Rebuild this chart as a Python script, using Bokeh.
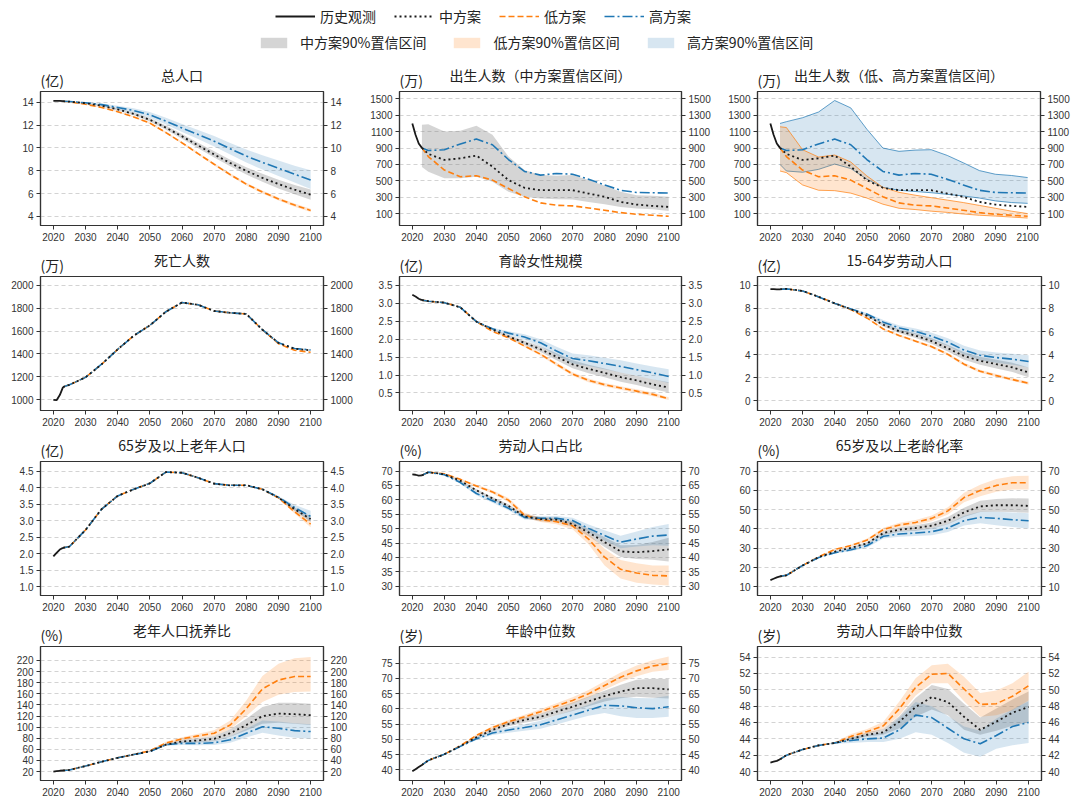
from bokeh.plotting import figure
from bokeh.models import (Range1d, LinearAxis, FixedTicker, PrintfTickFormatter,
                          Legend, LegendItem)
from bokeh.core.properties import value
from bokeh.layouts import column, row
from bokeh.embed import file_html
from bokeh.resources import INLINE

# ---------------- data ----------------
YEARS = [2023, 2025, 2030, 2035, 2040, 2045, 2050, 2055, 2060, 2065, 2070, 2075, 2080, 2085, 2090, 2095, 2100]
HIST_YEARS = [2020, 2021, 2022, 2023]
X_TICKS = [2020, 2030, 2040, 2050, 2060, 2070, 2080, 2090, 2100]

# 1 总人口 (亿)
P1_HIST = [14.12, 14.13, 14.12, 14.10]
P1_MID = [14.10, 14.06, 13.92, 13.70, 13.38, 12.98, 12.47, 11.78, 11.02, 10.22, 9.43, 8.68, 7.99, 7.38, 6.83, 6.34, 5.90]
P1_MID_LO = [14.10, 14.05, 13.88, 13.63, 13.29, 12.86, 12.32, 11.60, 10.81, 9.98, 9.16, 8.39, 7.67, 7.03, 6.45, 5.93, 5.45]
P1_MID_HI = [14.10, 14.07, 13.96, 13.77, 13.47, 13.10, 12.62, 11.96, 11.23, 10.46, 9.70, 8.97, 8.31, 7.73, 7.21, 6.75, 6.35]
P1_LOW = [14.10, 14.04, 13.83, 13.55, 13.18, 12.72, 12.18, 11.35, 10.45, 9.50, 8.57, 7.66, 6.83, 6.13, 5.53, 4.99, 4.52]
P1_LOW_LO = [14.10, 14.03, 13.80, 13.51, 13.13, 12.66, 12.11, 11.27, 10.36, 9.40, 8.46, 7.54, 6.71, 6.00, 5.40, 4.85, 4.38]
P1_LOW_HI = [14.10, 14.05, 13.86, 13.59, 13.23, 12.78, 12.25, 11.43, 10.54, 9.60, 8.68, 7.78, 6.95, 6.26, 5.66, 5.13, 4.66]
P1_HIGH = [14.10, 14.07, 13.96, 13.80, 13.55, 13.28, 12.90, 12.35, 11.75, 11.18, 10.59, 9.93, 9.29, 8.73, 8.22, 7.70, 7.18]
P1_HIGH_LO = [14.10, 14.05, 13.90, 13.70, 13.40, 13.08, 12.65, 12.05, 11.40, 10.78, 10.13, 9.42, 8.72, 8.10, 7.53, 6.96, 6.40]
P1_HIGH_HI = [14.10, 14.09, 14.02, 13.90, 13.70, 13.48, 13.15, 12.65, 12.10, 11.58, 11.05, 10.44, 9.86, 9.36, 8.91, 8.44, 8.05]

# 2/3 出生人数 (万)
P2_HIST = [1200, 1062, 956, 902]
P2_MID = [902, 829, 755, 775, 808, 673, 509, 415, 386, 386, 386, 345, 305, 243, 210, 194, 182]
P2_MID_LO = [670, 612, 530, 530, 550, 489, 366, 305, 284, 276, 272, 243, 214, 182, 161, 153, 133]
P2_MID_HI = [1185, 1190, 1103, 1111, 1172, 1062, 796, 632, 571, 562, 571, 509, 440, 366, 325, 317, 305]
P2_LOW = [902, 796, 632, 550, 562, 509, 407, 305, 231, 202, 194, 169, 141, 112, 92, 80, 67]
P2_HIGH = [902, 870, 880, 950, 1010, 940, 760, 615, 570, 590, 580, 520, 450, 385, 358, 354, 352]
P3_LOW_LO = [620, 600, 450, 385, 380, 350, 290, 215, 165, 150, 130, 115, 95, 80, 70, 58, 46]
P3_LOW_HI = [1160, 1150, 880, 790, 815, 730, 560, 420, 360, 325, 295, 265, 235, 200, 165, 130, 100]
P3_HIGH_LO = [700, 620, 605, 640, 705, 650, 520, 420, 385, 370, 355, 335, 315, 290, 255, 235, 225]
P3_HIGH_HI = [1200, 1222, 1270, 1340, 1480, 1390, 1130, 900, 860, 875, 880, 810, 720, 625, 580, 565, 540]

# 4 死亡人数 (万)
P4_HIST = [998, 995, 1040, 1110]
P4_MID = [1110, 1130, 1195, 1310, 1440, 1560, 1650, 1770, 1850, 1830, 1776, 1760, 1750, 1612, 1497, 1445, 1432]
P4_LOW = [1110, 1130, 1195, 1310, 1440, 1560, 1650, 1770, 1850, 1830, 1776, 1760, 1750, 1612, 1490, 1432, 1415]
P4_HIGH = [1110, 1130, 1195, 1310, 1440, 1560, 1650, 1770, 1850, 1830, 1776, 1760, 1750, 1612, 1498, 1448, 1435]

# 5 育龄女性规模 (亿)
P5_HIST = [3.24, 3.19, 3.13, 3.09]
P5_MID = [3.09, 3.06, 3.02, 2.89, 2.49, 2.27, 2.08, 1.90, 1.72, 1.51, 1.30, 1.17, 1.06, 0.94, 0.85, 0.74, 0.65]
P5_MID_LO = [3.09, 3.06, 3.02, 2.89, 2.49, 2.25, 2.04, 1.84, 1.64, 1.41, 1.19, 1.05, 0.94, 0.81, 0.72, 0.61, 0.51]
P5_MID_HI = [3.09, 3.06, 3.02, 2.89, 2.49, 2.29, 2.12, 1.96, 1.80, 1.61, 1.41, 1.29, 1.18, 1.07, 0.98, 0.88, 0.80]
P5_LOW = [3.09, 3.06, 3.02, 2.89, 2.49, 2.22, 2.04, 1.81, 1.58, 1.30, 1.03, 0.85, 0.73, 0.64, 0.55, 0.46, 0.34]
P5_LOW_LO = [3.09, 3.06, 3.02, 2.89, 2.49, 2.21, 2.02, 1.78, 1.54, 1.25, 0.98, 0.80, 0.68, 0.59, 0.50, 0.41, 0.30]
P5_LOW_HI = [3.09, 3.06, 3.02, 2.89, 2.49, 2.23, 2.06, 1.84, 1.62, 1.35, 1.08, 0.90, 0.78, 0.69, 0.60, 0.51, 0.38]
P5_HIGH = [3.09, 3.06, 3.02, 2.89, 2.49, 2.29, 2.17, 2.06, 1.90, 1.67, 1.46, 1.40, 1.32, 1.24, 1.15, 1.06, 0.96]
P5_HIGH_LO = [3.09, 3.06, 3.02, 2.89, 2.49, 2.26, 2.12, 1.98, 1.80, 1.55, 1.32, 1.25, 1.16, 1.07, 0.98, 0.88, 0.78]
P5_HIGH_HI = [3.09, 3.06, 3.02, 2.89, 2.49, 2.32, 2.22, 2.14, 2.00, 1.79, 1.60, 1.55, 1.48, 1.41, 1.32, 1.24, 1.16]

# 6 15-64岁劳动人口 (亿)
P6_HIST = [9.68, 9.68, 9.66, 9.66]
P6_MID = [9.66, 9.70, 9.52, 9.00, 8.44, 7.93, 7.36, 6.59, 6.02, 5.65, 5.17, 4.55, 3.89, 3.47, 3.18, 2.90, 2.47]
P6_MID_LO = [9.66, 9.70, 9.52, 9.00, 8.44, 7.90, 7.28, 6.45, 5.85, 5.44, 4.92, 4.27, 3.57, 3.12, 2.80, 2.50, 2.05]
P6_MID_HI = [9.66, 9.70, 9.52, 9.00, 8.44, 7.96, 7.44, 6.73, 6.19, 5.86, 5.42, 4.83, 4.21, 3.82, 3.56, 3.30, 2.90]
P6_LOW = [9.66, 9.70, 9.52, 9.00, 8.44, 7.90, 7.16, 6.22, 5.65, 5.17, 4.69, 4.03, 3.18, 2.56, 2.19, 1.85, 1.53]
P6_LOW_LO = [9.66, 9.70, 9.52, 9.00, 8.44, 7.87, 7.10, 6.14, 5.56, 5.07, 4.58, 3.91, 3.05, 2.43, 2.06, 1.72, 1.40]
P6_LOW_HI = [9.66, 9.70, 9.52, 9.00, 8.44, 7.93, 7.22, 6.30, 5.74, 5.27, 4.80, 4.15, 3.31, 2.69, 2.32, 1.98, 1.66]
P6_HIGH = [9.66, 9.70, 9.52, 9.00, 8.44, 7.96, 7.50, 6.82, 6.31, 6.02, 5.60, 5.09, 4.40, 3.95, 3.75, 3.61, 3.41]
P6_HIGH_LO = [9.66, 9.70, 9.52, 9.00, 8.44, 7.92, 7.40, 6.65, 6.10, 5.77, 5.30, 4.75, 4.02, 3.53, 3.30, 3.14, 2.90]
P6_HIGH_HI = [9.66, 9.70, 9.52, 9.00, 8.44, 8.00, 7.60, 7.00, 6.52, 6.27, 5.90, 5.43, 4.78, 4.37, 4.20, 4.08, 3.95]

# 7 65岁及以上老年人口 (亿)
P7_HIST = [1.92, 2.03, 2.13, 2.18]
P7_MID = [2.18, 2.22, 2.72, 3.35, 3.75, 3.95, 4.13, 4.47, 4.45, 4.30, 4.12, 4.07, 4.07, 3.95, 3.70, 3.35, 3.05]
P7_MID_LO = [2.18, 2.22, 2.72, 3.35, 3.75, 3.95, 4.13, 4.47, 4.45, 4.30, 4.12, 4.07, 4.07, 3.95, 3.68, 3.30, 2.97]
P7_MID_HI = [2.18, 2.22, 2.72, 3.35, 3.75, 3.95, 4.13, 4.47, 4.45, 4.30, 4.12, 4.07, 4.07, 3.95, 3.72, 3.40, 3.13]
P7_LOW = [2.18, 2.22, 2.72, 3.35, 3.75, 3.95, 4.13, 4.47, 4.45, 4.30, 4.12, 4.07, 4.07, 3.95, 3.69, 3.27, 2.90]
P7_LOW_LO = [2.18, 2.22, 2.72, 3.35, 3.75, 3.95, 4.13, 4.47, 4.45, 4.30, 4.12, 4.07, 4.07, 3.95, 3.67, 3.22, 2.80]
P7_LOW_HI = [2.18, 2.22, 2.72, 3.35, 3.75, 3.95, 4.13, 4.47, 4.45, 4.30, 4.12, 4.07, 4.07, 3.95, 3.71, 3.32, 3.00]
P7_HIGH = [2.18, 2.22, 2.72, 3.35, 3.75, 3.95, 4.13, 4.47, 4.45, 4.30, 4.12, 4.07, 4.07, 3.95, 3.71, 3.40, 3.13]
P7_HIGH_LO = [2.18, 2.22, 2.72, 3.35, 3.75, 3.95, 4.13, 4.47, 4.45, 4.30, 4.12, 4.07, 4.07, 3.95, 3.68, 3.32, 2.98]
P7_HIGH_HI = [2.18, 2.22, 2.72, 3.35, 3.75, 3.95, 4.13, 4.47, 4.45, 4.30, 4.12, 4.07, 4.07, 3.95, 3.74, 3.48, 3.30]

# 8 劳动人口占比 (%)
P8_HIST = [68.85, 68.7, 68.4, 68.5]
P8_MID = [68.5, 69.6, 68.85, 66.6, 63.3, 60.5, 57.9, 54.25, 53.3, 53.1, 51.6, 48.7, 45.3, 42.1, 41.8, 42.2, 42.8]
P8_MID_LO = [68.5, 69.6, 68.7, 66.3, 62.9, 60.0, 57.3, 53.6, 52.6, 52.3, 50.6, 47.4, 43.6, 40.2, 39.5, 39.2, 38.6]
P8_MID_HI = [68.5, 69.6, 69.0, 66.9, 63.7, 61.0, 58.5, 54.9, 54.0, 53.9, 52.6, 50.0, 47.0, 44.2, 44.3, 45.4, 46.8]
P8_LOW = [68.5, 69.6, 69.0, 67.1, 64.8, 62.75, 59.9, 54.7, 53.1, 52.4, 51.0, 46.4, 40.1, 35.9, 34.6, 33.8, 33.6]
P8_LOW_LO = [68.5, 69.6, 68.8, 66.8, 64.4, 62.2, 59.2, 53.9, 52.3, 51.5, 49.8, 44.6, 37.2, 32.7, 31.2, 30.6, 30.3]
P8_LOW_HI = [68.5, 69.6, 69.2, 67.4, 65.2, 63.3, 60.6, 55.5, 53.9, 53.3, 52.2, 48.2, 43.0, 39.1, 38.0, 37.2, 37.2]
P8_HIGH = [68.5, 69.6, 68.7, 66.0, 62.2, 59.7, 57.1, 53.9, 53.6, 53.6, 52.8, 50.1, 47.6, 45.3, 46.4, 47.4, 47.8]
P8_HIGH_LO = [68.5, 69.6, 68.5, 65.6, 61.6, 59.0, 56.4, 53.2, 52.9, 52.8, 51.8, 48.8, 45.8, 43.2, 43.8, 44.2, 44.1]
P8_HIGH_HI = [68.5, 69.6, 68.9, 66.4, 62.8, 60.4, 57.8, 54.6, 54.3, 54.4, 53.8, 51.4, 49.4, 47.5, 49.0, 50.6, 51.6]

# 9 65岁及以上老龄化率 (%)
P9_HIST = [13.5, 14.2, 14.9, 15.4]
P9_MID = [15.4, 16.0, 21.1, 25.4, 28.3, 30.2, 32.6, 37.9, 39.7, 40.5, 41.7, 44.3, 48.6, 51.7, 52.3, 52.3, 52.0]
P9_MID_LO = [15.4, 16.0, 21.1, 25.3, 28.0, 29.7, 31.9, 36.9, 38.5, 39.1, 40.1, 42.4, 46.2, 48.8, 49.0, 48.8, 48.4]
P9_MID_HI = [15.4, 16.0, 21.1, 25.5, 28.6, 30.7, 33.3, 38.9, 40.9, 41.9, 43.3, 46.2, 51.0, 54.6, 55.6, 55.9, 55.8]
P9_LOW = [15.4, 16.0, 21.1, 25.6, 29.4, 31.4, 34.3, 39.7, 42.1, 43.4, 45.5, 49.4, 56.3, 60.0, 62.6, 64.0, 64.0]
P9_LOW_LO = [15.4, 16.0, 21.1, 25.5, 29.0, 30.9, 33.6, 38.8, 41.0, 42.1, 44.0, 47.5, 53.8, 57.0, 59.3, 60.5, 60.5]
P9_LOW_HI = [15.4, 16.0, 21.1, 25.8, 29.8, 31.9, 35.0, 40.6, 43.2, 44.7, 47.0, 51.3, 58.8, 63.0, 65.9, 67.4, 67.6]
P9_HIGH = [15.4, 16.0, 21.1, 25.2, 27.7, 29.2, 31.4, 36.2, 37.4, 37.9, 38.6, 40.5, 44.3, 46.0, 45.5, 44.8, 44.3]
P9_HIGH_LO = [15.4, 16.0, 21.1, 25.0, 27.3, 28.5, 30.4, 35.0, 36.0, 36.3, 36.8, 38.4, 41.8, 43.0, 42.0, 41.0, 40.2]
P9_HIGH_HI = [15.4, 16.0, 21.1, 25.4, 28.1, 29.9, 32.4, 37.4, 38.8, 39.5, 40.4, 42.6, 46.8, 49.0, 49.0, 48.6, 48.2]

# 10 老年人口抚养比 (%)
P10_HIST = [20.0, 20.8, 21.5, 22.0]
P10_MID = [22.0, 23.0, 30.0, 37.7, 44.8, 50.7, 56.6, 68.4, 74.3, 76.0, 79.0, 89.0, 103.8, 119.7, 124.4, 123.2, 121.5]
P10_MID_LO = [22.0, 23.0, 30.0, 37.7, 44.8, 50.2, 55.5, 66.5, 71.5, 72.5, 74.5, 82.5, 94.0, 106.0, 108.0, 106.0, 104.0]
P10_MID_HI = [22.0, 23.0, 30.0, 37.7, 44.8, 51.2, 57.7, 70.5, 77.5, 80.0, 84.0, 96.0, 115.0, 136.0, 144.0, 144.0, 142.0]
P10_LOW = [22.0, 23.0, 30.0, 37.7, 44.8, 50.7, 57.5, 71.3, 79.0, 84.3, 89.0, 103.8, 133.3, 168.7, 184.6, 191.1, 191.1]
P10_LOW_LO = [22.0, 23.0, 30.0, 37.7, 44.8, 50.2, 56.5, 69.0, 76.0, 80.5, 84.0, 96.0, 120.0, 145.0, 158.0, 163.0, 164.0]
P10_LOW_HI = [22.0, 23.0, 30.0, 37.7, 44.8, 51.2, 58.5, 73.5, 82.0, 88.0, 94.5, 112.0, 148.0, 192.0, 214.0, 224.0, 226.0]
P10_HIGH = [22.0, 23.0, 30.0, 37.7, 44.8, 50.7, 56.0, 68.4, 70.7, 70.7, 71.9, 77.2, 89.0, 100.8, 97.9, 93.7, 92.0]
P10_HIGH_LO = [22.0, 23.0, 30.0, 37.7, 44.8, 50.2, 55.0, 66.5, 68.0, 67.5, 68.0, 72.0, 81.5, 90.0, 85.0, 81.0, 79.0]
P10_HIGH_HI = [22.0, 23.0, 30.0, 37.7, 44.8, 51.2, 57.0, 70.4, 73.5, 74.0, 76.0, 83.0, 97.0, 112.0, 110.0, 107.0, 105.0]

# 11 年龄中位数 (岁)
P11_HIST = [39.5, 40.2, 40.9, 41.6]
P11_MID = [41.6, 43.1, 45.1, 47.8, 50.7, 53.1, 55.0, 56.4, 57.4, 59.1, 60.7, 62.5, 64.2, 65.7, 66.8, 66.8, 66.4]
P11_MID_LO = [41.6, 43.1, 45.1, 47.7, 50.4, 52.6, 54.3, 55.5, 56.4, 57.9, 59.3, 60.9, 62.4, 63.5, 64.0, 63.7, 63.4]
P11_MID_HI = [41.6, 43.1, 45.1, 47.9, 51.0, 53.6, 55.7, 57.3, 58.4, 60.3, 62.1, 64.1, 66.0, 67.9, 69.6, 69.9, 69.8]
P11_LOW = [41.6, 43.1, 45.1, 47.9, 51.3, 53.9, 55.8, 57.4, 59.1, 61.0, 62.8, 65.0, 67.7, 70.4, 72.5, 74.1, 74.9]
P11_LOW_LO = [41.6, 43.1, 45.1, 47.8, 51.0, 53.4, 55.2, 56.7, 58.3, 60.1, 61.8, 63.8, 66.3, 68.8, 70.7, 72.2, 72.8]
P11_LOW_HI = [41.6, 43.1, 45.1, 48.0, 51.6, 54.4, 56.4, 58.1, 59.9, 61.9, 63.8, 66.2, 69.1, 72.0, 74.3, 76.0, 77.2]
P11_HIGH = [41.6, 43.1, 45.1, 47.7, 50.2, 52.1, 53.1, 53.9, 54.8, 56.4, 58.0, 59.6, 61.2, 61.0, 60.4, 60.1, 60.7]
P11_HIGH_LO = [41.6, 43.1, 45.1, 47.5, 49.8, 51.4, 52.2, 52.8, 53.5, 54.9, 56.4, 57.8, 58.7, 57.6, 57.0, 57.0, 57.4]
P11_HIGH_HI = [41.6, 43.1, 45.1, 47.9, 50.6, 52.8, 54.0, 55.0, 56.1, 57.9, 59.6, 61.4, 63.5, 63.9, 63.6, 63.5, 64.3]

# 12 劳动人口年龄中位数 (岁)
P12_HIST = [41.1, 41.2, 41.3, 41.5]
P12_MID = [41.5, 42.0, 42.7, 43.2, 43.5, 44.0, 44.5, 44.8, 46.1, 47.9, 49.1, 48.5, 46.7, 45.1, 46.1, 47.2, 47.9]
P12_MID_LO = [41.5, 42.0, 42.7, 43.2, 43.5, 43.9, 44.3, 44.5, 45.3, 46.7, 47.6, 46.9, 45.1, 44.5, 45.0, 45.6, 46.0]
P12_MID_HI = [41.5, 42.0, 42.7, 43.2, 43.5, 44.1, 44.8, 45.2, 46.8, 49.0, 50.6, 50.1, 48.3, 46.6, 47.7, 48.8, 49.8]
P12_LOW = [41.5, 42.0, 42.7, 43.2, 43.5, 44.3, 44.9, 45.6, 47.7, 50.3, 51.9, 52.0, 50.1, 48.2, 48.3, 49.2, 50.5]
P12_LOW_LO = [41.5, 42.0, 42.7, 43.2, 43.5, 44.1, 44.6, 45.2, 46.9, 49.3, 50.8, 50.8, 48.6, 46.7, 46.9, 47.5, 48.7]
P12_LOW_HI = [41.5, 42.0, 42.7, 43.2, 43.6, 44.6, 45.2, 46.1, 48.6, 51.4, 53.0, 53.2, 51.6, 49.6, 49.9, 50.8, 52.2]
P12_HIGH = [41.5, 42.0, 42.7, 43.2, 43.5, 43.8, 44.0, 44.1, 45.1, 46.9, 46.6, 45.3, 44.0, 43.4, 44.4, 45.5, 46.0]
P12_HIGH_LO = [41.5, 42.0, 42.7, 43.2, 43.4, 43.5, 43.6, 43.6, 44.0, 44.8, 44.5, 43.5, 42.3, 41.8, 42.8, 43.2, 43.5]
P12_HIGH_HI = [41.5, 42.0, 42.7, 43.2, 43.6, 44.2, 44.5, 44.8, 46.6, 48.5, 48.0, 46.8, 45.5, 45.0, 46.5, 47.6, 48.6]

TITLES = ["总人口", "出生人数（中方案置信区间）", "出生人数（低、高方案置信区间）",
          "死亡人数", "育龄女性规模", "15-64岁劳动人口",
          "65岁及以上老年人口", "劳动人口占比", "65岁及以上老龄化率",
          "老年人口抚养比", "年龄中位数", "劳动人口年龄中位数"]
UNITS = ["(亿)", "(万)", "(万)", "(万)", "(亿)", "(亿)", "(亿)", "(%)", "(%)", "(%)", "(岁)", "(岁)"]
Y_TICKS = [
    [4, 6, 8, 10, 12, 14],
    [100, 300, 500, 700, 900, 1100, 1300, 1500],
    [100, 300, 500, 700, 900, 1100, 1300, 1500],
    [1000, 1200, 1400, 1600, 1800, 2000],
    [0.5, 1.0, 1.5, 2.0, 2.5, 3.0, 3.5],
    [0, 2, 4, 6, 8, 10],
    [1.0, 1.5, 2.0, 2.5, 3.0, 3.5, 4.0, 4.5],
    [30, 35, 40, 45, 50, 55, 60, 65, 70],
    [10, 20, 30, 40, 50, 60, 70],
    [20, 40, 60, 80, 100, 120, 140, 160, 180, 200, 220],
    [40, 45, 50, 55, 60, 65, 70, 75],
    [40, 42, 44, 46, 48, 50, 52, 54],
]
Y_RANGES = [(3.2, 14.95), (-45, 1590), (-45, 1590), (905, 2078), (0.01, 3.75), (-0.83, 10.77),
            (0.74, 4.79), (26.8, 73.3), (5.5, 75), (4, 245), (36.5, 80.5), (38.9, 55.3)]
Y_FMT = ["%d", "%d", "%d", "%d", "%.1f", "%d", "%.1f", "%d", "%d", "%d", "%d", "%d"]

PANELS = [
    dict(hist=P1_HIST, mid=P1_MID, low=P1_LOW, high=P1_HIGH,
         bands=[(P1_MID_LO, P1_MID_HI, "mid"), (P1_LOW_LO, P1_LOW_HI, "low"), (P1_HIGH_LO, P1_HIGH_HI, "high")]),
    dict(hist=P2_HIST, mid=P2_MID, low=P2_LOW, high=P2_HIGH,
         bands=[(P2_MID_LO, P2_MID_HI, "mid")]),
    dict(hist=P2_HIST, mid=P2_MID, low=P2_LOW, high=P2_HIGH,
         bands=[(P3_HIGH_LO, P3_HIGH_HI, "high_e"), (P3_LOW_LO, P3_LOW_HI, "low_e")]),
    dict(hist=P4_HIST, mid=P4_MID, low=P4_LOW, high=P4_HIGH, bands=[]),
    dict(hist=P5_HIST, mid=P5_MID, low=P5_LOW, high=P5_HIGH,
         bands=[(P5_MID_LO, P5_MID_HI, "mid"), (P5_LOW_LO, P5_LOW_HI, "low"), (P5_HIGH_LO, P5_HIGH_HI, "high")]),
    dict(hist=P6_HIST, mid=P6_MID, low=P6_LOW, high=P6_HIGH,
         bands=[(P6_MID_LO, P6_MID_HI, "mid"), (P6_LOW_LO, P6_LOW_HI, "low"), (P6_HIGH_LO, P6_HIGH_HI, "high")]),
    dict(hist=P7_HIST, mid=P7_MID, low=P7_LOW, high=P7_HIGH,
         bands=[(P7_MID_LO, P7_MID_HI, "mid"), (P7_LOW_LO, P7_LOW_HI, "low"), (P7_HIGH_LO, P7_HIGH_HI, "high")]),
    dict(hist=P8_HIST, mid=P8_MID, low=P8_LOW, high=P8_HIGH,
         bands=[(P8_MID_LO, P8_MID_HI, "mid"), (P8_LOW_LO, P8_LOW_HI, "low"), (P8_HIGH_LO, P8_HIGH_HI, "high")]),
    dict(hist=P9_HIST, mid=P9_MID, low=P9_LOW, high=P9_HIGH,
         bands=[(P9_MID_LO, P9_MID_HI, "mid"), (P9_LOW_LO, P9_LOW_HI, "low"), (P9_HIGH_LO, P9_HIGH_HI, "high")]),
    dict(hist=P10_HIST, mid=P10_MID, low=P10_LOW, high=P10_HIGH,
         bands=[(P10_MID_LO, P10_MID_HI, "mid"), (P10_LOW_LO, P10_LOW_HI, "low"), (P10_HIGH_LO, P10_HIGH_HI, "high")]),
    dict(hist=P11_HIST, mid=P11_MID, low=P11_LOW, high=P11_HIGH,
         bands=[(P11_MID_LO, P11_MID_HI, "mid"), (P11_LOW_LO, P11_LOW_HI, "low"), (P11_HIGH_LO, P11_HIGH_HI, "high")]),
    dict(hist=P12_HIST, mid=P12_MID, low=P12_LOW, high=P12_HIGH,
         bands=[(P12_MID_LO, P12_MID_HI, "mid"), (P12_LOW_LO, P12_LOW_HI, "low"), (P12_HIGH_LO, P12_HIGH_HI, "high")]),
]

# ---------------- style ----------------
BLACK = "#1a1a1a"
ORANGE = "#ff7f0e"
BLUE = "#1f77b4"
GRAY = "#808080"
AX = "#333333"
CJK = "Noto Sans CJK SC"
NUM = "Liberation Sans"

HIST_STYLE = dict(line_color=BLACK, line_width=1.8)
MID_STYLE = dict(line_color=BLACK, line_width=1.8, line_dash="2 3")
LOW_STYLE = dict(line_color=ORANGE, line_width=1.6, line_dash="6 3")
HIGH_STYLE = dict(line_color=BLUE, line_width=1.6, line_dash="10 3 2 3")
BAND_STYLE = {
    "mid": dict(fill_color=GRAY, fill_alpha=0.33),
    "low": dict(fill_color=ORANGE, fill_alpha=0.2),
    "high": dict(fill_color=BLUE, fill_alpha=0.18),
    "low_e": dict(fill_color=ORANGE, fill_alpha=0.2),
    "high_e": dict(fill_color=BLUE, fill_alpha=0.18),
}
EDGE = {"low_e": ORANGE, "high_e": BLUE}

COL_W = [362, 354, 356]
BORDER_L = [40, 37, 41]
BORDER_R = [39, 35, 31]
TITLE_H = 29
PANEL_H = 156
X_START, X_END = 2016, 2104


def style_axis(ax, ticks, fmt):
    ax.ticker = FixedTicker(ticks=ticks)
    ax.formatter = PrintfTickFormatter(format=fmt)
    ax.major_label_text_font = NUM
    ax.major_label_text_font_size = "10px"
    ax.major_label_text_color = AX
    ax.axis_line_color = AX
    ax.axis_line_width = 1.2
    ax.major_tick_line_color = AX
    ax.major_tick_line_width = 1
    ax.major_tick_out = 4
    ax.major_tick_in = 0
    ax.minor_tick_line_color = None
    ax.major_label_standoff = 3


def make_title(i):
    c = i % 3
    t = figure(width=COL_W[c], height=TITLE_H, x_range=Range1d(X_START, X_END), y_range=Range1d(0, TITLE_H),
               output_backend="svg", toolbar_location=None,
               x_axis_location=None, y_axis_location=None,
               min_border_left=BORDER_L[c], min_border_right=BORDER_R[c],
               min_border_top=0, min_border_bottom=0)
    t.outline_line_color = None
    t.grid.visible = False
    t.text(x=[(X_START + X_END) / 2], y=[5], text=[TITLES[i]], text_align="center",
           text_baseline="bottom", text_font=value(CJK), text_font_size=value("14px"),
           text_color="#222222")
    t.text(x=[X_START], y=[0], text=[UNITS[i]], text_align="left",
           text_baseline="bottom", text_font=value(CJK), text_font_size=value("14px"),
           text_color="#222222")
    return t


def make_panel(i):
    c = i % 3
    spec = PANELS[i]
    y0, y1 = Y_RANGES[i]
    p = figure(width=COL_W[c], height=PANEL_H, x_range=Range1d(X_START, X_END), y_range=Range1d(y0, y1),
               output_backend="svg", toolbar_location=None,
               min_border_left=BORDER_L[c], min_border_right=BORDER_R[c],
               min_border_top=2, min_border_bottom=20)
    p.outline_line_color = AX
    p.outline_line_width = 1.2
    p.xgrid.visible = False
    p.ygrid.ticker = FixedTicker(ticks=Y_TICKS[i])
    p.ygrid.grid_line_color = "#c8c8c8"
    p.ygrid.grid_line_dash = "4 3"
    p.ygrid.grid_line_width = 0.8
    style_axis(p.xaxis[0], X_TICKS, "%d")
    style_axis(p.yaxis[0], Y_TICKS[i], Y_FMT[i])
    right = LinearAxis()
    style_axis(right, Y_TICKS[i], Y_FMT[i])
    p.add_layout(right, "right")

    for lo, hi, kind in spec["bands"]:
        p.varea(x=YEARS, y1=lo, y2=hi, **BAND_STYLE[kind])
        if kind in EDGE:
            p.line(YEARS, lo, line_color=EDGE[kind], line_alpha=0.7, line_width=1)
            p.line(YEARS, hi, line_color=EDGE[kind], line_alpha=0.7, line_width=1)

    p.line(YEARS, spec["low"], **LOW_STYLE)
    p.line(YEARS, spec["high"], **HIGH_STYLE)
    p.line(YEARS, spec["mid"], **MID_STYLE)
    p.line(HIST_YEARS, spec["hist"], **HIST_STYLE)
    return p


# ---------------- legend ----------------
lf = figure(width=1072, height=60, x_range=Range1d(0, 1), y_range=Range1d(0, 1),
            output_backend="svg", toolbar_location=None,
            x_axis_location=None, y_axis_location=None,
            min_border_left=0, min_border_right=0, min_border_top=0, min_border_bottom=0)
lf.outline_line_color = None
lf.grid.visible = False
OFF = [-5, -4]
r_hist = lf.line(OFF, OFF, **HIST_STYLE)
r_mid = lf.line(OFF, OFF, **MID_STYLE)
r_low = lf.line(OFF, OFF, **LOW_STYLE)
r_high = lf.line(OFF, OFF, **HIGH_STYLE)
b_mid = lf.varea(x=OFF, y1=OFF, y2=OFF, **BAND_STYLE["mid"])
b_low = lf.varea(x=OFF, y1=OFF, y2=OFF, **BAND_STYLE["low"])
b_high = lf.varea(x=OFF, y1=OFF, y2=OFF, **BAND_STYLE["high"])

LEG_COMMON = dict(orientation="horizontal", padding=0, margin=0, border_line_color=None,
                  background_fill_alpha=0, label_text_font=CJK, label_text_font_size="14px",
                  label_text_color="#222222", label_height=16)
leg1 = Legend(items=[LegendItem(label="历史观测", renderers=[r_hist]),
                     LegendItem(label="中方案", renderers=[r_mid]),
                     LegendItem(label="低方案", renderers=[r_low]),
                     LegendItem(label="高方案", renderers=[r_high])],
              location=(275, 34), glyph_width=40, glyph_height=16, label_standoff=5, spacing=18,
              **LEG_COMMON)
leg2 = Legend(items=[LegendItem(label="中方案90%置信区间", renderers=[b_mid]),
                     LegendItem(label="低方案90%置信区间", renderers=[b_low]),
                     LegendItem(label="高方案90%置信区间", renderers=[b_high])],
              location=(257, 8), glyph_width=33, glyph_height=13, label_standoff=10, spacing=24,
              **LEG_COMMON)
lf.add_layout(leg1)
lf.add_layout(leg2)

cells = [column(make_title(i), make_panel(i)) for i in range(12)]
layout = column(lf,
                row(cells[0], cells[1], cells[2]),
                row(cells[3], cells[4], cells[5]),
                row(cells[6], cells[7], cells[8]),
                row(cells[9], cells[10], cells[11]))

open("out.html", "w").write(file_html(layout, INLINE))
